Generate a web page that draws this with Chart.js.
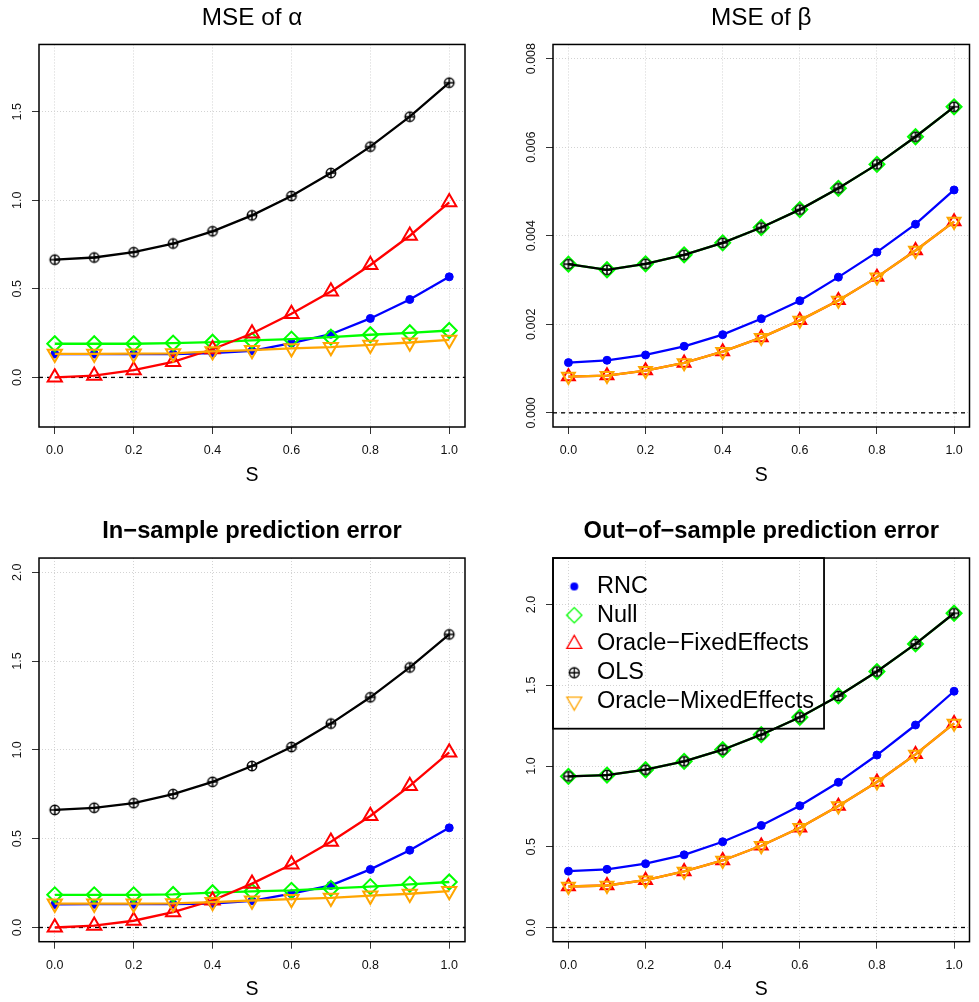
<!DOCTYPE html>
<html>
<head>
<meta charset="utf-8">
<script src="https://cdn.jsdelivr.net/npm/chart.js@4.4.1/dist/chart.umd.min.js"></script>
<style>
html, body { margin: 0; padding: 0; background: #ffffff; }
#wrap { position: relative; width: 979px; height: 1002px; overflow: hidden; background: #ffffff; }
#wrap canvas { position: absolute; }
</style>
</head>
<body>
<div id="wrap">
  <canvas id="c1" width="490" height="500" style="left:0px;top:0px;width:490px;height:500px"></canvas>
  <canvas id="c2" width="489" height="500" style="left:490px;top:0px;width:489px;height:500px"></canvas>
  <canvas id="c3" width="490" height="502" style="left:0px;top:500px;width:490px;height:502px"></canvas>
  <canvas id="c4" width="489" height="502" style="left:490px;top:500px;width:489px;height:502px"></canvas>
</div>
<script>
// ---------------- data ----------------
const sValues = [0, 0.1, 0.2, 0.3, 0.4, 0.5, 0.6, 0.7, 0.8, 0.9, 1.0];
const seriesNames = ['RNC', 'Null', 'Oracle\u2212FixedEffects', 'OLS', 'Oracle\u2212MixedEffects'];
const panelTitles = ['MSE of \u03B1', 'MSE of \u03B2', 'In\u2212sample prediction error', 'Out\u2212of\u2212sample prediction error'];
const xAxisTitle = 'S';

const xTickValues = [0, 0.2, 0.4, 0.6, 0.8, 1.0];
const xTickLabels = ['0.0', '0.2', '0.4', '0.6', '0.8', '1.0'];
const yTicksAlpha = [0, 0.5, 1.0, 1.5];
const yLabelsAlpha = ['0.0', '0.5', '1.0', '1.5'];
const yTicksBeta = [0, 0.002, 0.004, 0.006, 0.008];
const yLabelsBeta = ['0.000', '0.002', '0.004', '0.006', '0.008'];
const yTicksPred = [0, 0.5, 1.0, 1.5, 2.0];
const yLabelsPred = ['0.0', '0.5', '1.0', '1.5', '2.0'];

// MSE of alpha
const alphaRNC   = [0.132, 0.132, 0.132, 0.132, 0.137, 0.150, 0.194, 0.244, 0.333, 0.440, 0.568];
const alphaNull  = [0.190, 0.190, 0.190, 0.194, 0.199, 0.209, 0.216, 0.227, 0.241, 0.252, 0.265];
const alphaFixed = [0.000, 0.010, 0.041, 0.088, 0.159, 0.248, 0.359, 0.485, 0.635, 0.800, 0.989];
const alphaOLS   = [0.665, 0.677, 0.707, 0.756, 0.825, 0.915, 1.024, 1.154, 1.303, 1.472, 1.664];
const alphaMixed = [0.133, 0.133, 0.134, 0.136, 0.147, 0.154, 0.164, 0.171, 0.184, 0.197, 0.212];

// MSE of beta
const betaRNC   = [0.001134, 0.001187, 0.001307, 0.001503, 0.001766, 0.002126, 0.002532, 0.003065, 0.003629, 0.004260, 0.005034];
const betaNull  = [0.003358, 0.003231, 0.003366, 0.003569, 0.003839, 0.004185, 0.004590, 0.005071, 0.005612, 0.006236, 0.006912];
const betaFixed = [0.000819, 0.000841, 0.000954, 0.001127, 0.001382, 0.001698, 0.002089, 0.002539, 0.003065, 0.003666, 0.004320];
const betaOLS   = [0.003358, 0.003231, 0.003366, 0.003569, 0.003839, 0.004185, 0.004590, 0.005071, 0.005612, 0.006236, 0.006912];
const betaMixed = [0.000819, 0.000841, 0.000954, 0.001127, 0.001382, 0.001698, 0.002089, 0.002539, 0.003065, 0.003666, 0.004320];

// In-sample prediction error
const inRNC   = [0.130, 0.131, 0.131, 0.131, 0.135, 0.150, 0.190, 0.237, 0.327, 0.435, 0.561];
const inNull  = [0.184, 0.184, 0.184, 0.186, 0.196, 0.203, 0.209, 0.220, 0.230, 0.243, 0.256];
const inFixed = [0.000, 0.010, 0.038, 0.086, 0.152, 0.247, 0.355, 0.483, 0.628, 0.797, 0.986];
const inOLS   = [0.662, 0.674, 0.700, 0.751, 0.820, 0.909, 1.016, 1.148, 1.296, 1.464, 1.650];
const inMixed = [0.134, 0.134, 0.134, 0.136, 0.143, 0.152, 0.160, 0.167, 0.179, 0.190, 0.205];

// Out-of-sample prediction error
const outRNC   = [0.349, 0.360, 0.395, 0.450, 0.531, 0.632, 0.754, 0.899, 1.068, 1.254, 1.463];
const outNull  = [0.936, 0.944, 0.977, 1.029, 1.101, 1.194, 1.302, 1.434, 1.585, 1.756, 1.946];
const outFixed = [0.254, 0.260, 0.293, 0.347, 0.415, 0.506, 0.618, 0.752, 0.901, 1.072, 1.264];
const outOLS   = [0.936, 0.944, 0.977, 1.029, 1.101, 1.194, 1.302, 1.434, 1.585, 1.756, 1.946];
const outMixed = [0.254, 0.260, 0.293, 0.347, 0.415, 0.506, 0.618, 0.752, 0.901, 1.072, 1.264];

const referenceLineValue = 0;

// ---------------- styling ----------------
Chart.defaults.font.family = "'Liberation Sans', Arial, Helvetica, sans-serif";
Chart.defaults.color = '#000000';

const seriesColors = ['#0000FF', '#00FF00', '#FF0000', '#000000', '#FFA500'];

function markerCanvas(kind, color, r, lw, shiftX) {
  const pad = 3;
  const half = Math.ceil(r + pad + Math.abs(shiftX));
  const c = document.createElement('canvas');
  c.width = half * 2; c.height = Math.ceil(r + pad) * 2;
  const g = c.getContext('2d');
  const cx = c.width / 2 + shiftX, cy = c.height / 2;
  g.strokeStyle = color; g.fillStyle = color; g.lineWidth = lw;
  g.beginPath();
  if (kind === 'dot') {
    g.arc(cx, cy, r, 0, Math.PI * 2); g.fill();
  } else if (kind === 'diamond') {
    g.moveTo(cx - r, cy); g.lineTo(cx, cy - r); g.lineTo(cx + r, cy); g.lineTo(cx, cy + r); g.closePath(); g.stroke();
  } else if (kind === 'tri') {
    const a = r * Math.sqrt(3) / 2;
    g.moveTo(cx, cy - r); g.lineTo(cx + a, cy + r / 2); g.lineTo(cx - a, cy + r / 2); g.closePath(); g.stroke();
  } else if (kind === 'tridown') {
    const a = r * Math.sqrt(3) / 2;
    g.moveTo(cx, cy + r); g.lineTo(cx + a, cy - r / 2); g.lineTo(cx - a, cy - r / 2); g.closePath(); g.stroke();
  } else if (kind === 'oplus') {
    g.arc(cx, cy, r, 0, Math.PI * 2); g.stroke();
    g.beginPath();
    g.moveTo(cx - r, cy); g.lineTo(cx + r, cy);
    g.moveTo(cx, cy - r); g.lineTo(cx, cy + r);
    g.stroke();
  }
  return c;
}

const olsMarker = markerCanvas('oplus', '#000000', 4.7, 1.5, 0);
const legendIcons = [
  markerCanvas('dot', seriesColors[0], 4, 1, 2.5),
  markerCanvas('diamond', seriesColors[1], 7.6, 1.3, 2.5),
  markerCanvas('tri', seriesColors[2], 8.6, 1.3, 2.5),
  markerCanvas('oplus', seriesColors[3], 5, 1.3, 2.5),
  markerCanvas('tridown', seriesColors[4], 8.6, 1.3, 2.5)
];

function seriesStyle(i, triR) {
  const base = { borderColor: seriesColors[i], backgroundColor: seriesColors[i], borderWidth: 2.3, tension: 0, fill: false };
  if (i === 0) return Object.assign(base, { pointStyle: 'circle', pointRadius: 4, pointBorderWidth: 1, pointBackgroundColor: seriesColors[0] });
  if (i === 1) return Object.assign(base, { pointStyle: 'rectRot', pointRadius: 7.5, pointBorderWidth: 2, pointBackgroundColor: 'rgba(0,0,0,0)' });
  if (i === 2) return Object.assign(base, { pointStyle: 'triangle', pointRadius: triR, pointBorderWidth: 2, pointBackgroundColor: 'rgba(0,0,0,0)' });
  if (i === 3) return Object.assign(base, { pointStyle: olsMarker, pointRadius: 5, pointBorderWidth: 1.5 });
  return Object.assign(base, { pointStyle: 'triangle', pointRotation: 180, pointRadius: triR, pointBorderWidth: 2, pointBackgroundColor: 'rgba(0,0,0,0)' });
}

const framePlugin = {
  id: 'frame',
  beforeDatasetsDraw(chart) {
    const { ctx, chartArea: a, scales } = chart;
    const py = scales.y.getPixelForValue(referenceLineValue);
    ctx.save();
    ctx.strokeStyle = '#000000'; ctx.lineWidth = 1.3; ctx.setLineDash([4, 4]);
    ctx.beginPath(); ctx.moveTo(a.left, py); ctx.lineTo(a.right, py); ctx.stroke();
    ctx.restore();
  },
  afterLayout(chart) {
    const lg = chart.legend;
    if (lg && lg.options.display) {
      const a = chart.chartArea;
      lg.top = a.top; lg.left = a.left; lg.bottom = a.bottom;
      if (lg.adjustHitBoxes) lg.adjustHitBoxes();
    }
  },
  afterDraw(chart) {
    const { ctx, chartArea: a } = chart;
    ctx.save();
    ctx.strokeStyle = '#000000'; ctx.lineWidth = 1.5; ctx.setLineDash([]);
    ctx.strokeRect(a.left, a.top, a.right - a.left, a.bottom - a.top);
    const lg = chart.legend;
    if (lg && lg.options.display && lg.legendHitBoxes && lg.legendHitBoxes.length) {
      const hb = lg.legendHitBoxes;
      const last = hb[hb.length - 1];
      const gap = chart.options.plugins.frame.legendBottomGap;
      ctx.lineWidth = 1.8;
      ctx.strokeRect(lg.left, lg.top, lg.width, last.top + last.height + gap - lg.top);
    }
    ctx.restore();
  }
};

const panels = [
  { id: 'c1', title: panelTitles[0], bold: false, series: [alphaRNC, alphaNull, alphaFixed, alphaOLS, alphaMixed],
    yMin: -0.28, yMax: 1.88, yTicks: yTicksAlpha, yLabels: yLabelsAlpha,
    w: 490, h: 500, area: { left: 39, right: 465, top: 44, bottom: 427 }, titlePad: { top: 4.0, bottom: 11.3 },
    yPad: 5.5, sPad: 12.3, triR: 8.2, legend: false },
  { id: 'c2', title: panelTitles[1], bold: false, series: [betaRNC, betaNull, betaFixed, betaOLS, betaMixed],
    yMin: -0.00032, yMax: 0.00832, yTicks: yTicksBeta, yLabels: yLabelsBeta,
    w: 489, h: 500, area: { left: 63, right: 488, top: 44, bottom: 427 }, titlePad: { top: 4.0, bottom: 11.3 },
    yPad: -1.6, sPad: 12.3, triR: 7.4, legend: false },
  { id: 'c3', title: panelTitles[2], bold: true, series: [inRNC, inNull, inFixed, inOLS, inMixed],
    yMin: -0.08, yMax: 2.08, yTicks: yTicksPred, yLabels: yLabelsPred,
    w: 490, h: 502, area: { left: 39, right: 465, top: 58.3, bottom: 441.7 }, titlePad: { top: 17.2, bottom: 12.4 },
    yPad: 5.5, sPad: 0.3, triR: 8.2, legend: false },
  { id: 'c4', title: panelTitles[3], bold: true, series: [outRNC, outNull, outFixed, outOLS, outMixed],
    yMin: -0.088, yMax: 2.288, yTicks: yTicksPred, yLabels: yLabelsPred,
    w: 489, h: 502, area: { left: 63, right: 488, top: 58.3, bottom: 441.7 }, titlePad: { top: 17.2, bottom: 12.4 },
    yPad: 5.5, sPad: 0.3, triR: 7.4, legend: true }
];

function zeroPad(s) { s.paddingLeft = 0; s.paddingRight = 0; s.paddingTop = 0; s.paddingBottom = 0; }

panels.forEach(p => {
  const datasets = p.series.map((vals, i) => Object.assign({
    label: seriesNames[i],
    data: sValues.map((s, k) => ({ x: s, y: vals[k] })),
    order: seriesNames.length - 1 - i
  }, seriesStyle(i, p.triR)));

  new Chart(document.getElementById(p.id), {
    type: 'line',
    data: { datasets },
    options: {
      responsive: false,
      animation: false,
      devicePixelRatio: 1,
      events: [],
      layout: { padding: { left: 0, top: 0, bottom: 0, right: p.w - p.area.right } },
      plugins: {
        title: {
          display: true, text: p.title, fullSize: false, color: '#000000',
          font: { size: p.bold ? 23.7 : 24.3, weight: p.bold ? 'bold' : 'normal' },
          padding: p.titlePad
        },
        legend: {
          display: p.legend,
          position: 'chartArea',
          align: 'start',
          title: { display: true, text: '', font: { size: 1 }, padding: { top: 10.2, bottom: 0 } },
          labels: {
            usePointStyle: true,
            pointStyleWidth: 27,
            padding: 5.25,
            color: '#000000',
            font: { size: 23.5 },
            generateLabels(chart) {
              return chart.data.datasets.map((ds, i) => ({
                text: ds.label, pointStyle: legendIcons[i], fillStyle: 'rgba(0,0,0,0)',
                strokeStyle: 'rgba(0,0,0,0)', lineWidth: 0, hidden: false, datasetIndex: i, fontColor: '#000000'
              }));
            }
          }
        },
        tooltip: { enabled: false },
        frame: { legendBottomGap: 15.5 }
      },
      scales: {
        x: {
          type: 'linear', min: -0.04, max: 1.04,
          afterBuildTicks: s => { s.ticks = xTickValues.map(v => ({ value: v })); },
          afterFit: s => { s.height = p.h - p.area.bottom; zeroPad(s); },
          ticks: { autoSkip: false, minRotation: 0, maxRotation: 0, padding: 9.3, color: '#111111',
                   font: { size: 12.5 }, callback: (v, i) => xTickLabels[i] },
          grid: { color: '#D3D3D3', lineWidth: 1, tickLength: 7, tickColor: '#333333', tickWidth: 1, tickBorderDash: [] },
          border: { display: false, dash: [1, 2] },
          title: { display: true, text: xAxisTitle, color: '#000000', font: { size: 19.5 }, padding: { top: 0, bottom: p.sPad } }
        },
        y: {
          type: 'linear', min: p.yMin, max: p.yMax,
          afterBuildTicks: s => { s.ticks = p.yTicks.map(v => ({ value: v })); },
          afterFit: s => { s.width = p.area.left; zeroPad(s); },
          ticks: { autoSkip: false, minRotation: 90, maxRotation: 90, crossAlign: 'center', padding: p.yPad,
                   color: '#111111', font: { size: 12.5 }, callback: (v, i) => p.yLabels[i] },
          grid: { color: '#D3D3D3', lineWidth: 1, tickLength: 7, tickColor: '#333333', tickWidth: 1, tickBorderDash: [] },
          border: { display: false, dash: [1, 2] }
        }
      }
    },
    plugins: [framePlugin]
  });
});
</script>
</body>
</html>
